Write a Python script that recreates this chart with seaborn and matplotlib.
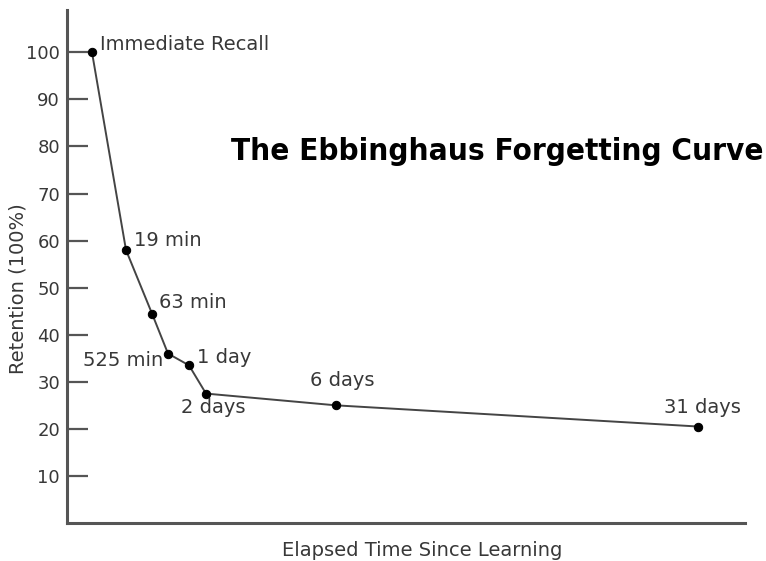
import matplotlib
matplotlib.use("Agg")
import matplotlib.pyplot as plt
import seaborn as sns
import pandas as pd

# ---- data ----
labels = ["Immediate Recall", "19 min", "63 min", "525 min", "1 day", "2 days", "6 days", "31 days"]
x_pos = [25, 59, 85, 101, 122, 139, 269, 631]          # horizontal placement along the (unscaled) time axis
retention = [100, 58, 44.5, 36, 33.5, 27.5, 25, 20.5]  # retention (%)
y_ticks = [10, 20, 30, 40, 50, 60, 70, 80, 90, 100]

df = pd.DataFrame({"x": x_pos, "retention": retention, "label": labels})

sns.set_theme(style="white")
plt.rcParams["font.family"] = ["DejaVu Sans"]

fig = plt.figure(figsize=(7.66, 5.61), dpi=100)
ax = fig.add_axes([67 / 766, 1 - 523 / 561, (745 - 67) / 766, (523 - 10) / 561])

sns.lineplot(data=df, x="x", y="retention", ax=ax, color="#444444", linewidth=1.4,
             marker="o", markersize=6, markerfacecolor="black", markeredgecolor="black")

ax.set_xlim(0, 678)
ax.set_ylim(0, 109)
ax.set_xticks([])
ax.set_yticks(y_ticks)
ax.set_yticklabels([str(t) for t in y_ticks])

text_color = "#383838"
ax.tick_params(axis="y", direction="in", length=15, width=1.6, color="#555555",
               labelsize=13, labelcolor=text_color, pad=5, left=True)
for side in ["top", "right"]:
    ax.spines[side].set_visible(False)
for side in ["left", "bottom"]:
    ax.spines[side].set_color("#555555")
    ax.spines[side].set_linewidth(2.2)

ax.set_xlabel("Elapsed Time Since Learning", fontsize=14, color=text_color)
ax.xaxis.set_label_coords(0.524, -0.035)
ax.xaxis.label.set_va("top")
ax.set_ylabel("Retention (100%)", fontsize=14, color=text_color)
ax.yaxis.set_label_coords(-0.058, 0.457)

# label offsets in pixels (dx, dy, ha)
offsets = {
    "Immediate Recall": (8, 8, "left"),
    "19 min": (8, 10, "left"),
    "63 min": (7, 11, "left"),
    "525 min": (-5, -7, "right"),
    "1 day": (8, 8, "left"),
    "2 days": (7, -14, "center"),
    "6 days": (6, 25, "center"),
    "31 days": (4, 19, "center"),
}
for xv, yv, lab in zip(x_pos, retention, labels):
    dx, dy, ha = offsets[lab]
    ax.annotate(lab, (xv, yv), xytext=(dx, dy), textcoords="offset pixels",
                ha=ha, va="center", fontsize=14, color=text_color)

fig.text(497 / 766, 1 - 152 / 561, "The Ebbinghaus Forgetting Curve", ha="center", va="center",
         fontsize=22.5, fontweight="heavy", fontstretch="condensed", color="black")

fig.savefig("out.png", dpi=100)
